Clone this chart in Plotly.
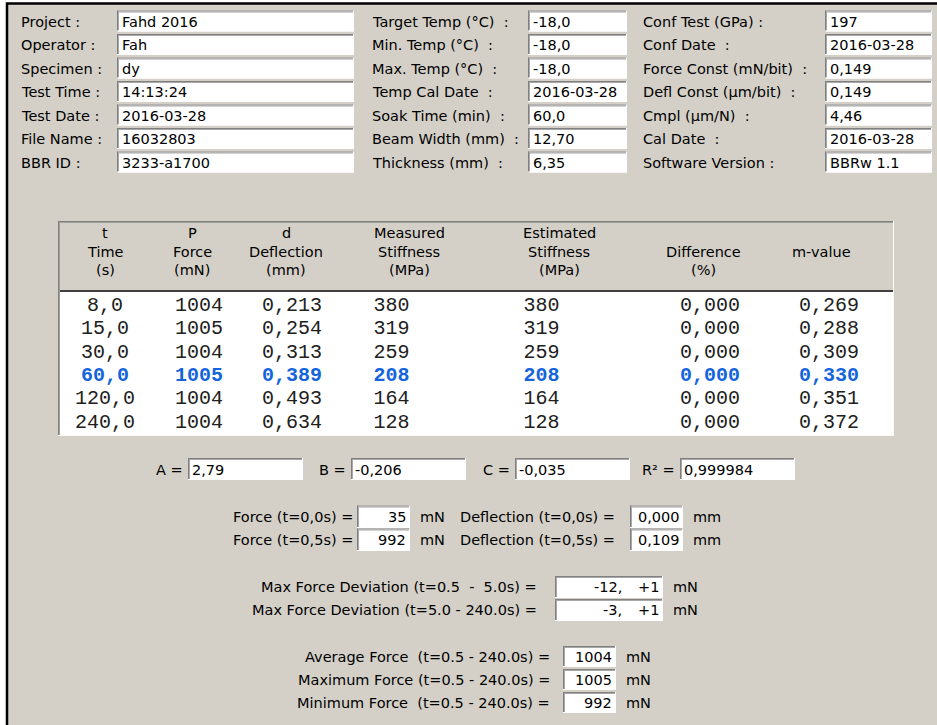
import plotly.graph_objects as go

W, H = 937, 725
BG = "#d4d0c8"
SANS = "DejaVu Sans"
MONO = "Liberation Mono"
BLUE = "#1464dc"
FS = 14.5

# ---- test info block ----
info_labels_1 = ["Project :", "Operator :", "Specimen :", "Test Time :", "Test Date :", "File Name :", "BBR ID :"]
info_values_1 = ["Fahd 2016", "Fah", "dy", "14:13:24", "2016-03-28", "16032803", "3233-a1700"]
info_labels_2 = ["Target Temp (°C)  :", "Min. Temp (°C)  :", "Max. Temp (°C)  :", "Temp Cal Date  :",
                 "Soak Time (min)  :", "Beam Width (mm)  :", "Thickness (mm)  :"]
info_values_2 = ["-18,0", "-18,0", "-18,0", "2016-03-28", "60,0", "12,70", "6,35"]
info_labels_3 = ["Conf Test (GPa) :", "Conf Date  :", "Force Const (mN/bit)  :", "Defl Const (µm/bit)  :",
                 "Cmpl (µm/N)  :", "Cal Date  :", "Software Version :"]
info_values_3 = ["197", "2016-03-28", "0,149", "0,149", "4,46", "2016-03-28", "BBRw 1.1"]

# ---- results table ----
col_headers = [["t", "Time", "(s)"], ["P", "Force", "(mN)"], ["d", "Deflection", "(mm)"],
               ["Measured", "Stiffness", "(MPa)"], ["Estimated", "Stiffness", "(MPa)"],
               ["", "Difference", "(%)"], ["", "m-value", ""]]
time_s = [8.0, 15.0, 30.0, 60.0, 120.0, 240.0]
force_mn = [1004, 1005, 1004, 1005, 1004, 1004]
defl_mm = [0.213, 0.254, 0.313, 0.389, 0.493, 0.634]
meas_stiff = [380, 319, 259, 208, 164, 128]
est_stiff = [380, 319, 259, 208, 164, 128]
diff_pct = [0.0, 0.0, 0.0, 0.0, 0.0, 0.0]
m_value = [0.269, 0.288, 0.309, 0.330, 0.351, 0.372]
highlight_row = 3  # t = 60 s

# ---- fit and force summary ----
fit_names = ["A =", "B =", "C =", "R² ="]
fit_values = [2.79, -0.206, -0.035, 0.999984]
fit_decimals = [2, 3, 3, 6]
force_t0, force_t05 = 35, 992
defl_t0, defl_t05 = 0.000, 0.109
dev_labels = ["Max Force Deviation (t=0.5  -  5.0s) =", "Max Force Deviation (t=5.0 - 240.0s) ="]
dev_low = [-12, -3]
dev_high = [1, 1]
stat_labels = ["Average Force  (t=0.5 - 240.0s) =", "Maximum Force (t=0.5 - 240.0s) =",
               "Minimum Force  (t=0.5 - 240.0s) ="]
stat_values = [1004, 1005, 992]


def fmt(v, nd):
    return f"{v:.{nd}f}".replace(".", ",")


def nb(s):
    return s.replace("  ", "\u00a0\u00a0")


shapes = []
anns = []


def line(x0, y0, x1, y1, color, width=1):
    shapes.append(dict(type="line", xref="x", yref="y", x0=x0, y0=y0, x1=x1, y1=y1,
                       layer="below", line=dict(color=color, width=width)))


def sunken(x0, y0, x1, y1, fill="white"):
    shapes.append(dict(type="rect", xref="x", yref="y", x0=x0, y0=y0, x1=x1, y1=y1,
                       layer="below", fillcolor=fill, line=dict(width=0)))
    line(x0, y0 + 0.5, x1, y0 + 0.5, "#808080")
    line(x0 + 0.5, y0, x0 + 0.5, y1, "#808080")
    line(x0 + 1, y0 + 1.5, x1 - 1, y0 + 1.5, "#a8a8a8")
    line(x0 + 1.5, y0 + 1, x0 + 1.5, y1 - 1, "#a8a8a8")
    line(x0, y1 - 0.5, x1, y1 - 0.5, "#ffffff")
    line(x1 - 0.5, y0, x1 - 0.5, y1, "#ffffff")


def text(x, y, s, anchor="left", size=FS, family=SANS, color="black", weight="normal"):
    anns.append(dict(x=x, y=y, xref="x", yref="y", text=nb(s), showarrow=False,
                     xanchor=anchor, yanchor="middle", borderpad=0, borderwidth=0,
                     font=dict(family=family, size=size, color=color, weight=weight)))


# dialog frame
shapes.append(dict(type="rect", xref="x", yref="y", x0=7, y0=3.5, x1=960, y1=760,
                   layer="below", fillcolor=BG, line=dict(color="black", width=2.5)))

# info block
cols = [(21, 117, 354, info_labels_1, info_values_1),
        (372, 528, 627, info_labels_2, info_values_2),
        (643, 825, 932, info_labels_3, info_values_3)]
for lx, bx0, bx1, labs, vals in cols:
    for i, (lab, val) in enumerate(zip(labs, vals)):
        yc = 21.5 + 23.5 * i
        sunken(bx0, yc - 11, bx1, yc + 10)
        text(lx, yc, lab)
        text(bx0 + 5, yc, val)

# table frame
tx0, ty0, tx1, ty1 = 58, 221, 894, 436
sep_y = 292
shapes.append(dict(type="rect", xref="x", yref="y", x0=tx0, y0=sep_y, x1=tx1, y1=ty1,
                   layer="below", fillcolor="white", line=dict(width=0)))
line(tx0, ty0 + 0.5, tx1, ty0 + 0.5, "#808080")
line(tx0 + 0.5, ty0, tx0 + 0.5, ty1, "#808080")
line(tx0 + 1, ty0 + 1.5, tx1 - 1, ty0 + 1.5, "#a0a098")
line(tx0 + 1.5, ty0 + 1, tx0 + 1.5, ty1 - 1, "#a0a098")
line(tx0, ty1 - 0.5, tx1, ty1 - 0.5, "#fbfbf6")
line(tx1 - 0.5, ty0, tx1 - 0.5, ty1, "#fbfbf6")
line(tx0 + 2, sep_y - 1, tx1 - 1, sep_y - 1, "#404040", 2)

header_x = [105, 192, 286, 409, 559, 703, 821]
header_y = [233, 251.5, 270]
for hx, lines in zip(header_x, col_headers):
    for hy, s in zip(header_y, lines):
        if s:
            text(hx, hy, s, anchor="center")

# table cells
cell_x = [105, 199, 292, 391.5, 541.5, 710, 829]
row_y = [306, 329, 352.5, 376, 399, 422.5]
columns = [[fmt(v, 1) for v in time_s], [str(v) for v in force_mn], [fmt(v, 3) for v in defl_mm],
           [str(v) for v in meas_stiff], [str(v) for v in est_stiff], [fmt(v, 3) for v in diff_pct],
           [fmt(v, 3) for v in m_value]]

fig = go.Figure()
for hl in (False, True):
    xs, ys, ts = [], [], []
    for cx, col in zip(cell_x, columns):
        for r, (ry, s) in enumerate(zip(row_y, col)):
            if (r == highlight_row) == hl:
                xs.append(cx)
                ys.append(ry)
                ts.append(s)
    fig.add_trace(go.Scatter(x=xs, y=ys, text=ts, mode="text", textposition="middle center",
                             hoverinfo="skip", showlegend=False,
                             textfont=dict(family=MONO, size=20, color=BLUE if hl else "#202020",
                                           weight="bold" if hl else "normal")))

# fit coefficients
fit_boxes = [(188, 303), (351, 466), (515, 630), (680, 795)]
for name, val, nd, (bx0, bx1) in zip(fit_names, fit_values, fit_decimals, fit_boxes):
    sunken(bx0, 458, bx1, 480)
    text(bx0 - 5, 469.5, name, anchor="right")
    text(bx0 + 4, 469.5, fmt(val, nd))

# force / deflection at start
for yc, fv, dv, tlab in [(517, force_t0, defl_t0, "0,0"), (540, force_t05, defl_t05, "0,5")]:
    sunken(357, yc - 11.5, 410, yc + 11)
    text(353, yc, f"Force (t={tlab}s) =", anchor="right")
    text(406, yc, str(fv), anchor="right")
    text(420, yc, "mN")
    sunken(630, yc - 11.5, 683, yc + 11)
    text(615, yc, f"Deflection (t={tlab}s) =", anchor="right")
    text(680, yc, fmt(dv, 3), anchor="right")
    text(693, yc, "mm")

# max force deviation
for yc, lab, lo, hi in zip([587, 610], dev_labels, dev_low, dev_high):
    sunken(555, yc - 11, 663, yc + 11)
    text(537, yc, lab, anchor="right")
    text(622, yc, f"{lo},", anchor="right")
    text(659, yc, f"+{hi}", anchor="right")
    text(673, yc, "mN")

# average / max / min force
for yc, lab, v in zip([657, 680, 703], stat_labels, stat_values):
    sunken(563, yc - 11, 616, yc + 10)
    text(550, yc, lab, anchor="right")
    text(612, yc, str(v), anchor="right")
    text(626, yc, "mN")

fig.update_layout(
    width=W, height=H, autosize=False,
    margin=dict(l=0, r=0, t=0, b=0, pad=0),
    paper_bgcolor="white", plot_bgcolor="white",
    xaxis=dict(range=[0, W], visible=False, fixedrange=True),
    yaxis=dict(range=[H, 0], visible=False, fixedrange=True),
    shapes=shapes, annotations=anns,
)

fig.write_html("out.html", config={"displayModeBar": False},
               post_script="document.body.style.margin='0';")
